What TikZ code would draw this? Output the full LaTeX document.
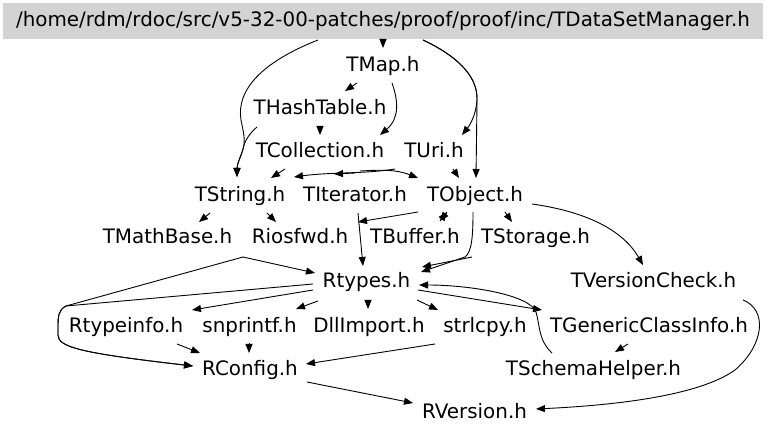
\documentclass[tikz,border=0pt]{standalone}
\usepackage{fontspec}
\setmainfont{DejaVu Sans}
\usetikzlibrary{arrows.meta,calc}
\definecolor{topgray}{RGB}{211,211,211}
\begin{document}
\begin{tikzpicture}[x=1pt,y=-1pt,
  lbl/.style={anchor=base, inner sep=0pt, font=\fontsize{19.9pt}{24pt}\selectfont},
  edge/.style={draw=black, line width=0.9pt, -{Triangle[length=9pt,width=7pt]}}]
\useasboundingbox (0,0) rectangle (768,435);
\node[fill=topgray, minimum width=760pt, minimum height=36pt, inner sep=0pt,
  font=\fontsize{19.9pt}{24pt}\selectfont] (top) at (383,21)
  {/home/rdm/rdoc/src/v5-32-00-patches/proof/proof/inc/TDataSetManager.h};
\node[lbl] (TMap) at (383,72) {TMap.h};
\node[lbl] (THashTable) at (320,115) {THashTable.h};
\node[lbl] (TCollection) at (320,158) {TCollection.h};
\node[lbl] (TUri) at (434,158) {TUri.h};
\node[lbl] (TString) at (240,202) {TString.h};
\node[lbl] (TIterator) at (355,202) {TIterator.h};
\node[lbl] (TObject) at (475,202) {TObject.h};
\node[lbl] (TMathBase) at (167.5,244) {TMathBase.h};
\node[lbl] (Riosfwd) at (300,244) {Riosfwd.h};
\node[lbl] (TBuffer) at (415,244) {TBuffer.h};
\node[lbl] (TStorage) at (535.5,244) {TStorage.h};
\node[lbl] (Rtypes) at (366.5,288) {Rtypes.h};
\node[lbl] (TVersionCheck) at (653.5,288) {TVersionCheck.h};
\node[lbl] (Rtypeinfo) at (126,333) {Rtypeinfo.h};
\node[lbl] (snprintf) at (249.5,333) {snprintf.h};
\node[lbl] (DllImport) at (369,333) {DllImport.h};
\node[lbl] (strlcpy) at (485,333) {strlcpy.h};
\node[lbl] (TGenericClassInfo) at (649,333) {TGenericClassInfo.h};
\node[lbl] (RConfig) at (250,375) {RConfig.h};
\node[lbl] (TSchemaHelper) at (593.5,375) {TSchemaHelper.h};
\node[lbl] (RVersion) at (474.5,418) {RVersion.h};

% edges
\draw[edge] ($(top.center)+(0,19)$) -- ($(TMap.base)+(0,-24)$);
\draw[edge] ($(top.center)+(-65,19)$) .. controls (262,62) and (236,90) .. (241,120)
  .. controls (243,130) and (245,138) .. (244,145)
  .. controls (242,155) and (237,163) .. ($(TString.base)+(-3,-25)$);
\draw[edge] ($(THashTable.base)+(-63,12)$) .. controls (250,133) and (246,139) .. (244,145)
  .. controls (242,155) and (237,163) .. ($(TString.base)+(-3,-25)$);
\draw[edge] ($(top.center)+(40,19)$) .. controls (455,55) and (478,75) .. (477,100)
  .. controls (476,115) and (470,125) .. ($(TUri.base)+(28,-23)$);
\draw[edge] ($(top.center)+(40,19)$) .. controls (455,55) and (478,75) .. (477,100)
  -- ($(TObject.base)+(1,-24)$);
\draw[edge] ($(TMap.base)+(-26,11)$) -- ($(THashTable.base)+(25,-24)$);
\draw[edge] ($(TMap.base)+(9,11)$) .. controls (398,100) and (400,118) .. ($(TCollection.base)+(60,-23)$);
\draw[edge] ($(THashTable.base)+(0,11)$) -- ($(TCollection.base)+(0,-23)$);
\draw[edge] ($(TCollection.base)+(-35,11)$) -- ($(TString.base)+(31,-24)$);
\draw[edge] ($(TUri.base)+(-39,11)$) .. controls (365,174) and (330,172) .. ($(TString.base)+(54,-25)$);
\draw[edge] ($(TCollection.base)+(35,15)$) -- ($(TIterator.base)+(-21,-28)$);
\draw[edge] ($(TCollection.base)+(40,13)$) .. controls (380,170) and (395,169) .. ($(TObject.base)+(-57,-24)$);
\draw[edge] ($(TUri.base)+(19,11)$) -- ($(TObject.base)+(-16,-24)$);
\draw[edge] ($(TString.base)+(-30,11)$) -- ($(TMathBase.base)+(31.5,-22)$);
\draw[edge] ($(TString.base)+(27,11)$) -- ($(Riosfwd.base)+(-24,-22)$);
\draw[edge] ($(TObject.base)+(-57,10)$) -- ($(Riosfwd.base)+(58,-22)$);
\draw[edge] ($(TIterator.base)+(3,11)$) -- ($(Rtypes.base)+(-3.5,-22)$);
\draw[edge] ($(TObject.base)+(-28,10)$) -- ($(TBuffer.base)+(25,-23)$);
\draw[edge] ($(TBuffer.base)+(25,-23)$) -- ($(TObject.base)+(-28,10)$);
\draw[edge] ($(TObject.base)+(30,10)$) -- ($(TStorage.base)+(-23.5,-22)$);
\draw[edge] ($(TObject.base)+(-2,10)$) .. controls (473,235) and (472,252) .. (465,257)
  -- ($(Rtypes.base)+(54.5,-16)$);
\draw[edge] ($(TBuffer.base)+(57,13)$) -- ($(Rtypes.base)+(55.5,-21)$);
\draw[edge] ($(TObject.base)+(57,2)$) .. controls (575,210) and (620,225) .. ($(TVersionCheck.base)+(-10.5,-23)$);
\draw[edge] ($(TVersionCheck.base)+(89.5,12)$) .. controls (768,310) and (764,345) .. (735,370)
  .. controls (700,395) and (620,405) .. ($(RVersion.base)+(61.5,-9)$);
\draw[edge] ($(TMathBase.base)+(75.5,13)$) -- ($(Rtypes.base)+(-51.5,-15)$);
\draw[edge] ($(TMathBase.base)+(75.5,13)$) -- (66,306) .. controls (58,310) and (58,318) .. (58,325)
  -- (58,335) .. controls (58,347) and (80,353) .. ($(RConfig.base)+(-57,-9)$);
\draw[edge] ($(Rtypes.base)+(-53.5,-4)$) -- (66,306) .. controls (58,310) and (58,318) .. (58,325)
  -- (58,335) .. controls (58,347) and (80,353) .. ($(RConfig.base)+(-57,-9)$);
\draw[edge] ($(Rtypes.base)+(-53.5,2)$) -- ($(Rtypeinfo.base)+(66,-23)$);
\draw[edge] ($(Rtypes.base)+(-48.5,13)$) -- ($(snprintf.base)+(46.5,-24)$);
\draw[edge] ($(Rtypes.base)+(1.5,12)$) -- ($(DllImport.base)+(-1,-24)$);
\draw[edge] ($(Rtypes.base)+(50.5,12)$) -- ($(strlcpy.base)+(-47,-23)$);
\draw[edge] ($(Rtypes.base)+(51.5,2)$) -- ($(TGenericClassInfo.base)+(-107,-23)$);
\draw[edge] ($(TSchemaHelper.base)+(-41.5,-22)$) .. controls (538,340) and (540,325) .. (536,312)
  .. controls (530,295) and (470,285) .. ($(Rtypes.base)+(52.5,-3)$);
\draw[edge] ($(TGenericClassInfo.base)+(-21,11)$) -- ($(TSchemaHelper.base)+(21.5,-23)$);
\draw[edge] ($(Rtypeinfo.base)+(51,11)$) -- ($(RConfig.base)+(-50,-22)$);
\draw[edge] ($(snprintf.base)+(-0.5,10)$) -- ($(RConfig.base)+(-1,-22)$);
\draw[edge] ($(strlcpy.base)+(-50,11)$) -- ($(RConfig.base)+(56,-11)$);
\draw[edge] ($(RConfig.base)+(57,7)$) -- ($(RVersion.base)+(-61.5,-15)$);
\end{tikzpicture}
\end{document}
